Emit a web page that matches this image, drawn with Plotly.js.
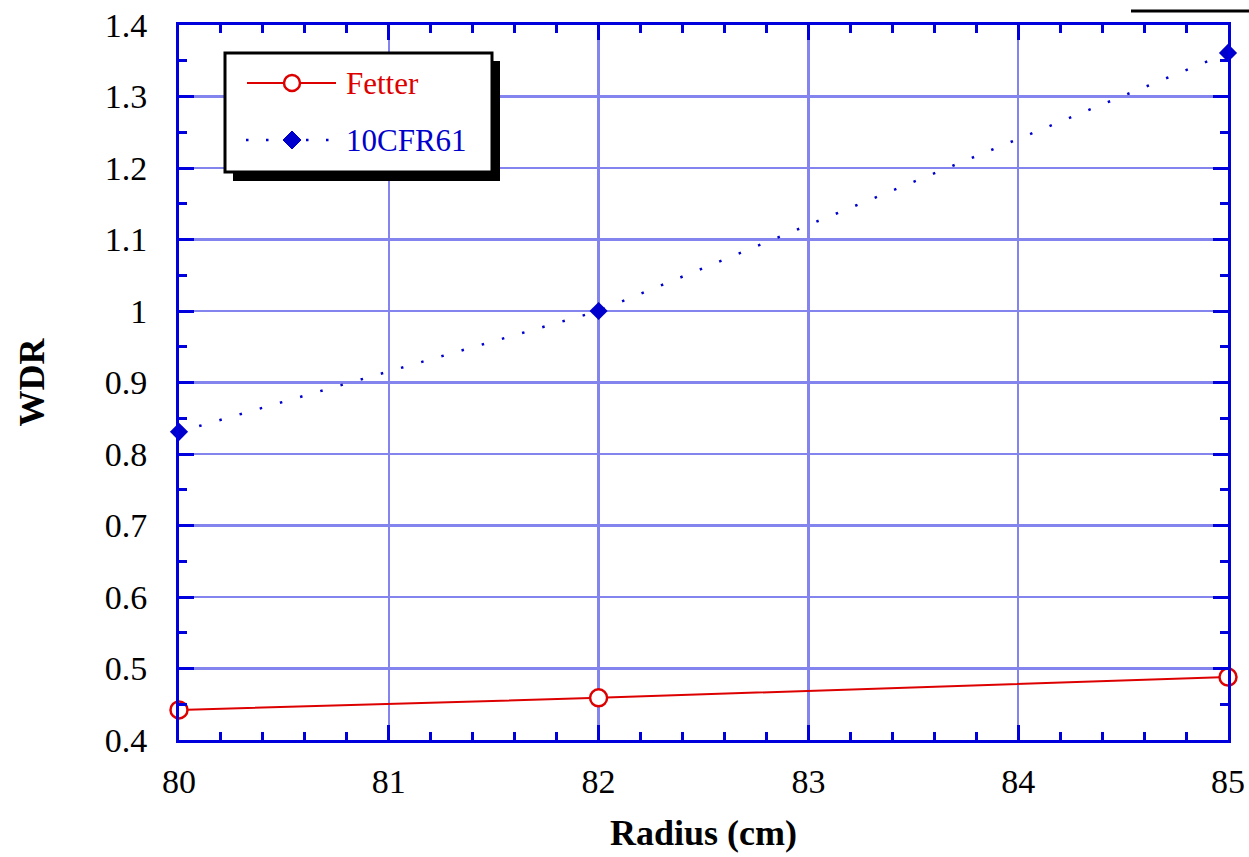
<!DOCTYPE html>
<html>
<head>
<meta charset="utf-8">
<script src="https://cdn.plot.ly/plotly-3.0.1.min.js"></script>
<style>html,body{margin:0;padding:0;background:#fff;}#chart{width:1249px;height:857px;}</style>
</head>
<body>
<div id="chart"></div>
<script>
const radius = [80, 82, 85];
const fetterWDR = [0.442, 0.459, 0.488];
const cfrWDR = [0.831, 1.0, 1.361];
const seriesNames = ['Fetter', '10CFR61'];
const xTitle = 'Radius (cm)';
const yTitle = 'WDR';

const W = 1249, H = 857;
const L = 179, R = 21, T = 25, B = 117;
const pw = W - L - R, ph = H - T - B;
const px = v => (v - L) / pw;
const py = v => (H - B - v) / ph;

const axisBlue = '#0000dd';
const gridBlue = '#8484ee';
const red = '#dd0000';
const blue = '#0000cc';
const font = 'Liberation Serif';

const traces = [
  {
    x: radius, y: fetterWDR, name: seriesNames[0], mode: 'lines+markers', cliponaxis: false,
    line: {color: red, width: 2},
    marker: {symbol: 'circle', size: 17, color: '#ffffff', line: {color: red, width: 2.5}},
    showlegend: false
  },
  {
    x: radius, y: cfrWDR, name: seriesNames[1], mode: 'lines+markers', cliponaxis: false,
    line: {color: blue, width: 2.5, dash: '2.5px,18.5px'},
    marker: {symbol: 'diamond', size: 14, color: blue},
    showlegend: false
  }
];

const axisCommon = {
  showline: true, linecolor: axisBlue, linewidth: 3, mirror: 'allticks',
  ticks: 'inside', ticklen: 15, tickwidth: 3, tickcolor: axisBlue,
  showgrid: true, gridcolor: gridBlue, gridwidth: 2.5,
  zeroline: false,
  fixedrange: true
};

const layout = {
  width: W, height: H,
  margin: {l: L, r: R, t: T, b: B},
  font: {family: font, size: 34, color: '#000'},
  paper_bgcolor: '#fff', plot_bgcolor: '#fff',
  showlegend: false,
  xaxis: Object.assign({}, axisCommon, {
    range: [80, 85], dtick: 1, tick0: 80,
    tickfont: {family: font, size: 34, color: '#000'},
    ticklabelstandoff: 9,
    minor: {dtick: 0.2, ticks: 'inside', ticklen: 8, tickwidth: 3, tickcolor: axisBlue, showgrid: false},
    title: {text: '<b>' + xTitle + '</b>', font: {family: font, size: 36, color: '#000'}, standoff: 22}
  }),
  yaxis: Object.assign({}, axisCommon, {
    range: [0.4, 1.4], dtick: 0.1, tick0: 0.4,
    tickfont: {family: font, size: 34, color: '#000'},
    ticklabelstandoff: 22,
    minor: {dtick: 0.05, ticks: 'inside', ticklen: 8, tickwidth: 3, tickcolor: axisBlue, showgrid: false},
    title: {text: '<b>' + yTitle + '</b>', font: {family: font, size: 36, color: '#000'}, standoff: 50}
  }),
  shapes: [
    {type: 'line', xref: 'paper', yref: 'paper', x0: px(1131), x1: px(1249), y0: py(11), y1: py(11), line: {color: '#000', width: 3}},
    {type: 'rect', xref: 'paper', yref: 'paper', x0: px(233), x1: px(500), y0: py(181), y1: py(61), fillcolor: '#000', line: {width: 0}},
    {type: 'rect', xref: 'paper', yref: 'paper', x0: px(225), x1: px(492), y0: py(172), y1: py(53), fillcolor: '#fff', line: {color: '#000', width: 3}},
    {type: 'line', xref: 'paper', yref: 'paper', x0: px(247), x1: px(336), y0: py(83), y1: py(83), line: {color: red, width: 2}},
    {type: 'circle', xref: 'paper', yref: 'paper', xsizemode: 'pixel', ysizemode: 'pixel', xanchor: px(292), yanchor: py(83), x0: -8, x1: 8, y0: -8, y1: 8, fillcolor: '#fff', line: {color: red, width: 2.5}},
    {type: 'line', xref: 'paper', yref: 'paper', x0: px(246), x1: px(336), y0: py(140), y1: py(140), line: {color: blue, width: 2.5, dash: '2.5px,17.5px'}},
    {type: 'path', xref: 'paper', yref: 'paper', xsizemode: 'pixel', ysizemode: 'pixel', xanchor: px(292), yanchor: py(140), path: 'M0,9L9,0L0,-9L-9,0Z', fillcolor: blue, line: {color: blue, width: 1}}
  ],
  annotations: [
    {xref: 'paper', yref: 'paper', x: px(344), y: py(84), xanchor: 'left', yanchor: 'middle', showarrow: false, text: seriesNames[0], font: {family: font, size: 31, color: red}},
    {xref: 'paper', yref: 'paper', x: px(344), y: py(141), xanchor: 'left', yanchor: 'middle', showarrow: false, text: seriesNames[1], font: {family: font, size: 31, color: blue}}
  ]
};

Plotly.newPlot('chart', traces, layout, {staticPlot: true, displayModeBar: false});
</script>
</body>
</html>
